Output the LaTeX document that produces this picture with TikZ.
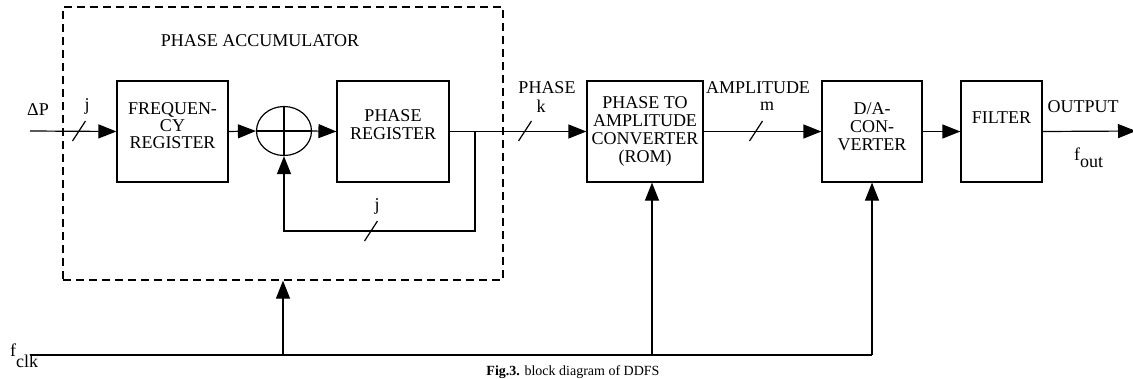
\documentclass[tikz,border=0pt]{standalone}
\usepackage{fontspec}
\setmainfont{Liberation Serif}
\usetikzlibrary{arrows.meta, positioning, shapes.geometric}

\begin{document}
\begin{tikzpicture}[
    x=1pt, y=-1pt,
    every node/.style={font=\fontsize{18}{18}\selectfont, inner sep=0pt},
    box/.style={draw, line width=1.2pt, minimum height=101pt, align=center},
    accbox/.style={draw, line width=1.2pt, dash pattern=on 8pt off 5pt, minimum width=440pt, minimum height=273pt},
    arr/.style={-{Triangle[length=18pt, width=14pt]}, line width=1.2pt},
    wire/.style={line width=1.2pt},
    lbl/.style={anchor=center}
]
    \useasboundingbox (0,0) rectangle (1133,378);

    % Phase accumulator
    \node[accbox] (acc) at (283,143.5) {};
    \node[lbl] (acctitle) at (260,41) {PHASE ACCUMULATOR};
    \node[box, minimum width=111pt] (freq) at (172.5,131.5) {\raisebox{4pt}[\height][\depth]{\begin{tabular}{@{}c@{}}FREQUEN-\\[-1pt]CY\\[-1pt]REGISTER\end{tabular}}};
    \node[draw, ellipse, line width=1.2pt, minimum width=55pt, minimum height=49pt] (adder) at (284,131) {};
    \node[box, minimum width=112pt] (phreg) at (393,131.5) {\raisebox{5pt}[\height][\depth]{\begin{tabular}{@{}c@{}}PHASE\\REGISTER\end{tabular}}};

    % Output chain
    \node[box, minimum width=116pt] (rom) at (645,131.5) {PHASE TO\\AMPLITUDE\\CONVERTER\\(ROM)};
    \node[box, minimum width=100pt] (da) at (872,131.5) {\raisebox{3pt}[\height][\depth]{\begin{tabular}{@{}c@{}}D/A-\\CON-\\VERTER\end{tabular}}};
    \node[box, minimum width=81pt] (filter) at (1001.5,131.5) {\raisebox{14pt}[\height][\depth]{FILTER}};

    % Labels
    \node[lbl] (dp) at (38,110) {ΔP};
    \node[lbl] (jin) at (87,106) {j};
    \node[lbl] (jfb) at (377,206) {j};
    \node[lbl] (phlbl) at (547,88) {PHASE};
    \node[lbl] (klbl) at (541,106) {k};
    \node[lbl] (amplbl) at (758,88) {AMPLITUDE};
    \node[lbl] (mlbl) at (767,106) {m};
    \node[lbl] (outlbl) at (1083,107) {OUTPUT};
    \node[anchor=base west] (fout) at (1074,160) {f\raisebox{-7pt}{out}};
    \node[anchor=base west] (fclk) at (10,356) {f\raisebox{-11pt}{clk}};
    \node[anchor=base, font=\fontsize{14}{14}\selectfont] (caption) at (573,375) {\textbf{Fig.3.} block diagram of DDFS};

    % Coordinates
    \coordinate (in) at (30,131);
    \coordinate (tap) at (475,131);
    \coordinate (fb) at (475,231);
    \coordinate (out) at (1136,131);
    \coordinate (clk) at (30,355);
    \coordinate (clkend) at (872,355);

    % Arrows
    \draw[arr] (in) -- (freq.west);
    \draw[arr] (freq.east) -- (adder.west);
    \draw[wire] (adder.west) -- (adder.east);
    \draw[wire] (adder.north) -- (adder.south);
    \draw[arr] (adder.east) -- (phreg.west);
    \draw[arr] (phreg.east) -- (rom.west);
    \draw[arr] (tap) -- (fb) -| (adder.south);
    \draw[arr] (rom.east) -- (da.west);
    \draw[arr] (da.east) -- (filter.west);
    \begin{scope}
        \clip (0,0) rectangle (1133,378);
        \draw[arr] (filter.east) -- (out);
    \end{scope}

    % Clock
    \draw[wire] (clk) -- (clkend);
    \draw[arr] (acc.south |- clk) -- (acc.south);
    \draw[arr] ([xshift=7pt]rom.south |- clk) -- ([xshift=7pt]rom.south);
    \draw[arr] (da.south |- clk) -- (da.south);

    % Bus widths
    \draw[wire] (72.5,141) -- (85.5,121);
    \draw[wire] (364.5,241) -- (377.5,221);
    \draw[wire] (518.5,141) -- (531.5,121);
    \draw[wire] (749.5,141) -- (762.5,121);
\end{tikzpicture}
\end{document}
